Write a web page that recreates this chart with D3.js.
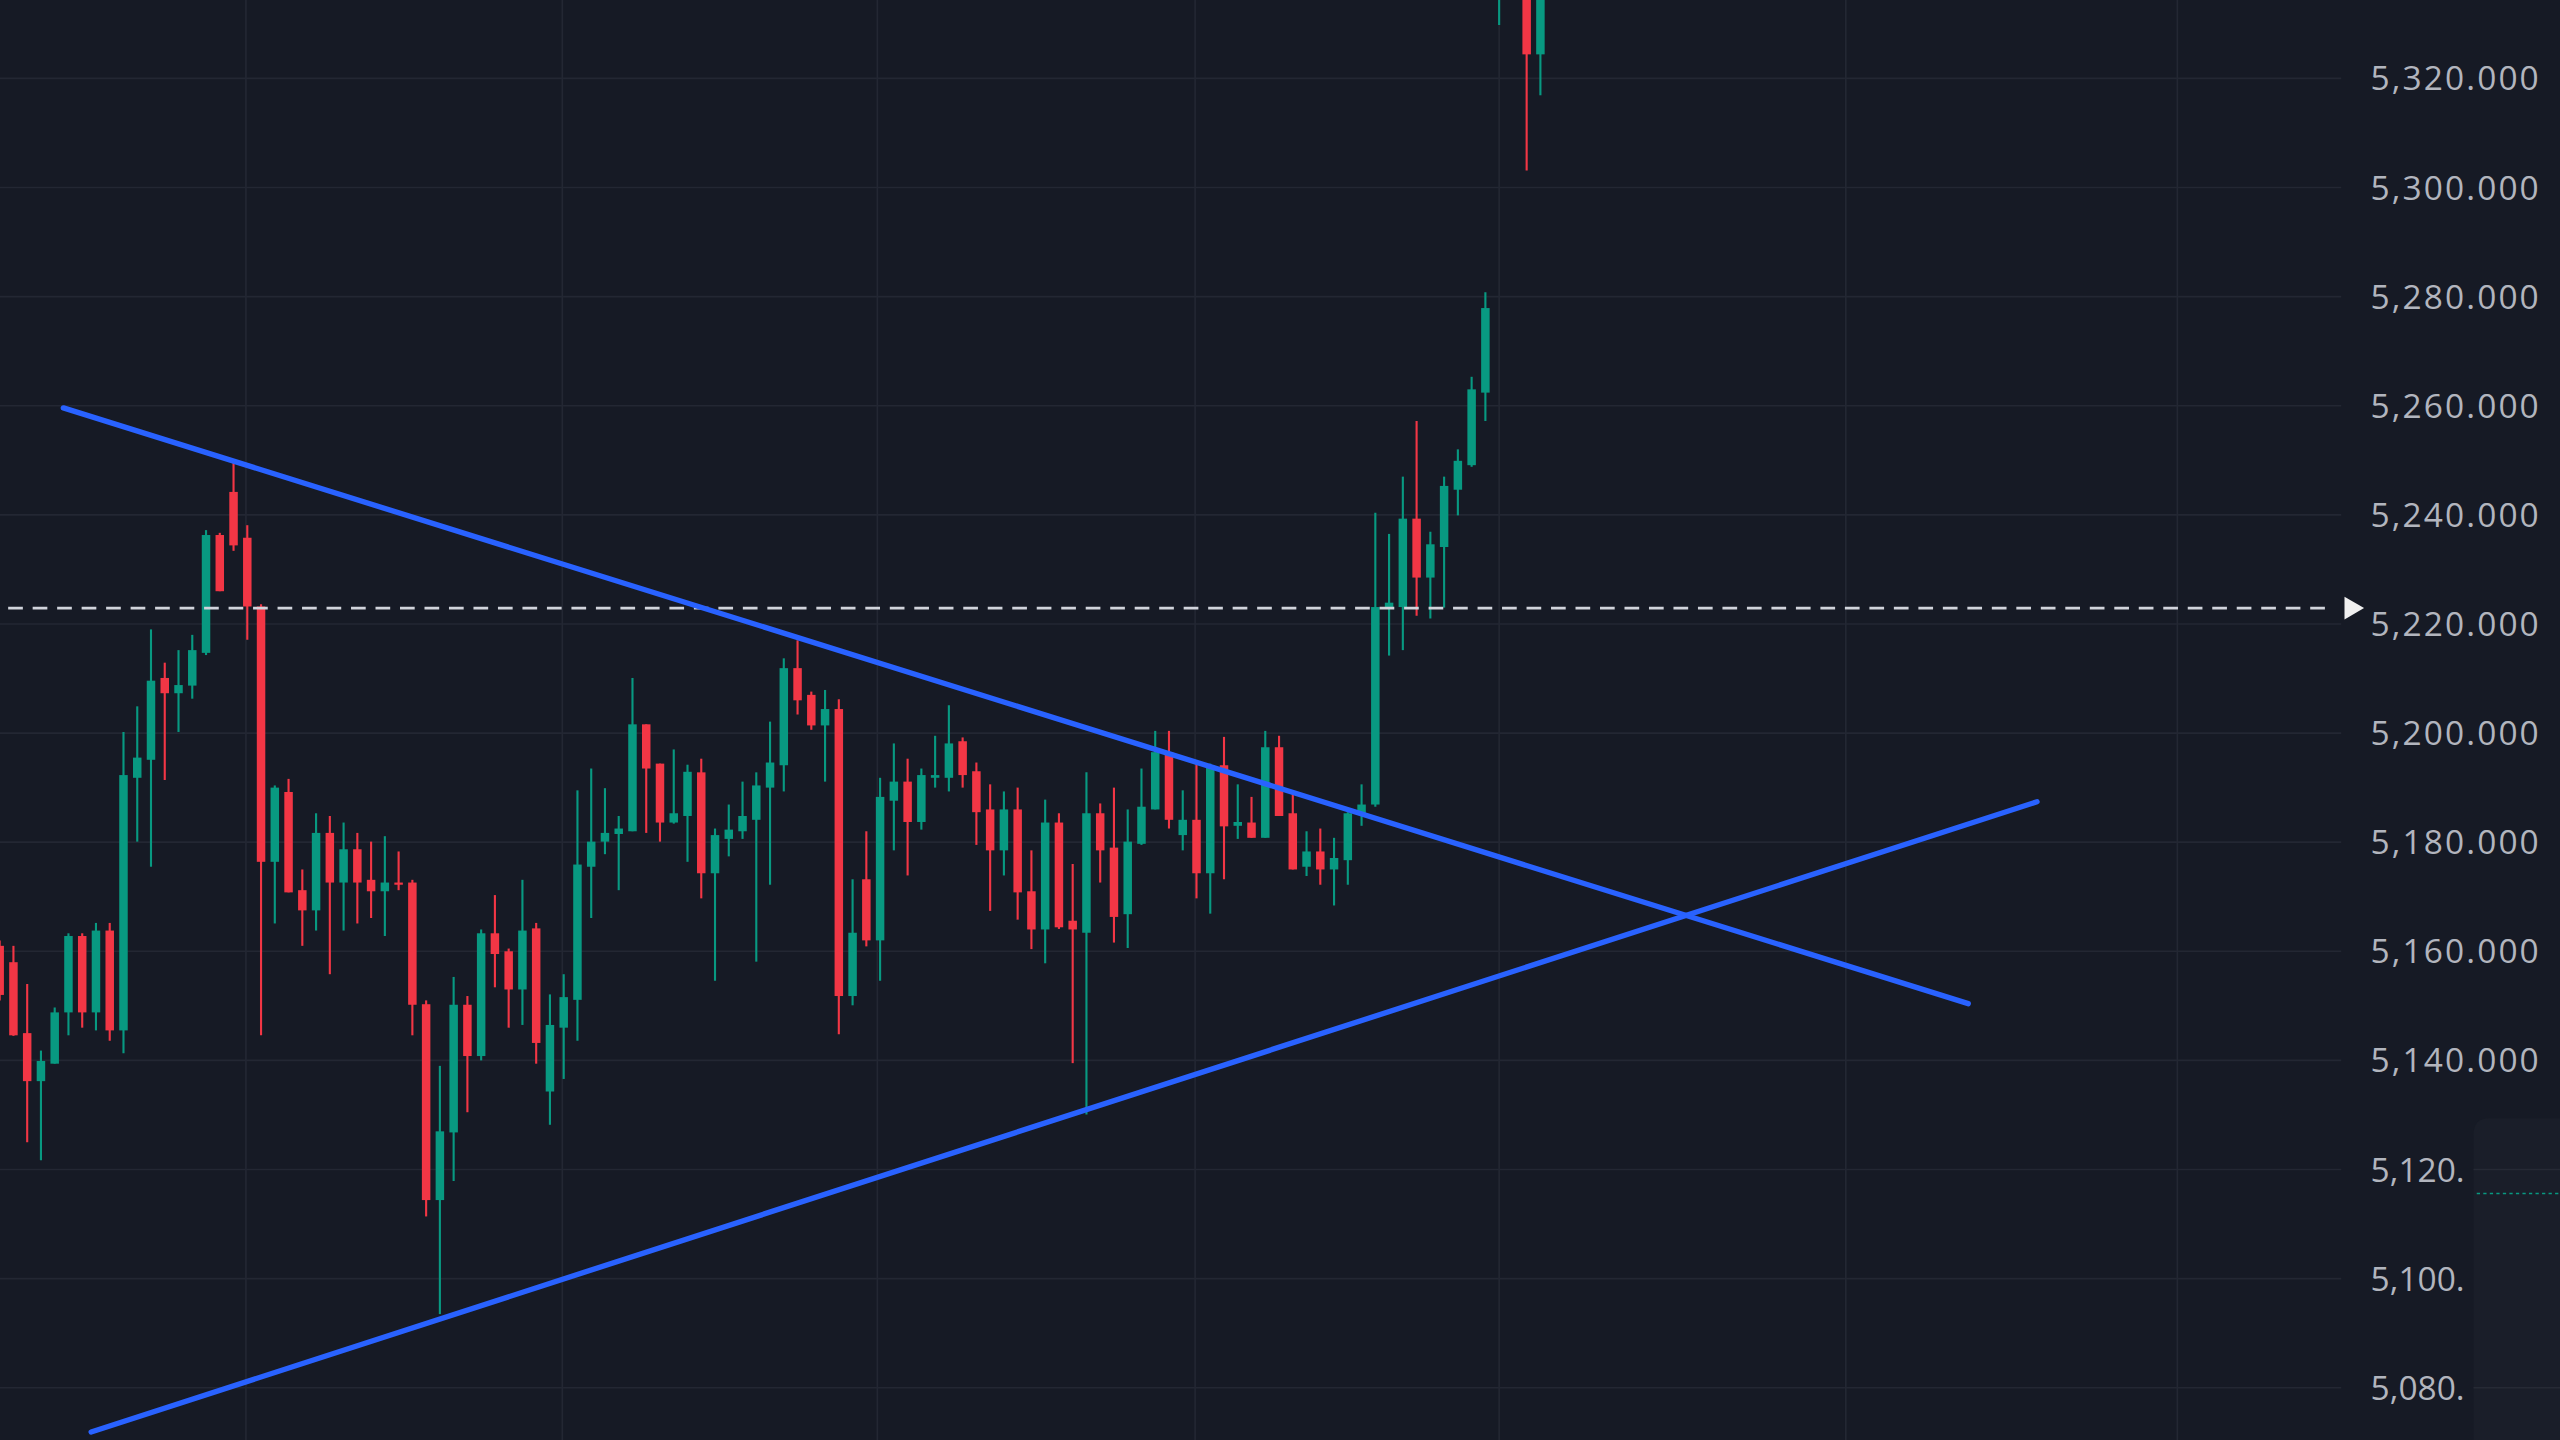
<!DOCTYPE html>
<html>
<head>
<meta charset="utf-8">
<script src="https://cdn.jsdelivr.net/npm/d3@7"></script>
<style>
  html, body { margin: 0; padding: 0; background: #161a25; overflow: hidden; }
</style>
</head>
<body>
<div id="draw"></div>
<script>
// candles: open, high, low, close
let opens  = [5161,5158,5145,5136.2,5139.4,5148.8,5162.8,5148.8,5163.8,5145.5,5191.8,5195.1,5210.1,5207.3,5208.7,5214.7,5236.3,5244.2,5235.8,5223.2,
              5176.4,5189.2,5171.2,5167.5,5181.7,5172.6,5178.7,5173.1,5171,5172.6,5172.6,5150.3,5114.4,5126.8,5150.2,5140.8,5163.3,5160,5153,5164.2,
              5134.3,5146,5151.1,5175.5,5180.1,5181.5,5182,5201.6,5194.4,5183.6,5184.8,5192.8,5174.3,5180.6,5182,5184.1,5190,5194.1,5211.9,5207,
              5201.4,5204.4,5151.8,5173.2,5162,5187.6,5191.1,5183.7,5191.8,5191.8,5198.5,5193,5186,5178.5,5186,5171,5164,5183.6,5165.6,5163.4,
              5185.3,5179,5166.8,5179.7,5186,5196.5,5181.3,5184.1,5174.3,5194.1,5183,5183.6,5180.8,5197.4,5185.3,5175.5,5178.3,5175,5176.7,5185,
              5186.9,5222.8,5223.1,5239.3,5228.5,5234.1,5244.6,5249.1,5262.4,5345,5360,5345,5324.4];
let highs  = [5162,5161,5154,5141.8,5149.7,5163.3,5163.3,5165.2,5165.2,5200.2,5204.9,5219,5212.9,5215.2,5218,5237.2,5236.7,5249.8,5238.1,5223.6,
              5190.4,5191.6,5175,5185.3,5184.8,5183.6,5181.7,5180.1,5181.1,5178.3,5173.1,5151,5139,5155.3,5151.8,5164,5170.3,5160.5,5173.1,5165.2,
              5152.1,5155.8,5189.5,5193.5,5189.9,5184.8,5210.1,5201.6,5194.4,5197,5194.2,5195.3,5182.5,5186.9,5191.1,5192.8,5202.1,5213.7,5217,5207.6,
              5207.9,5206.2,5173.2,5182,5191.8,5198.1,5195.3,5193.5,5199.5,5205.1,5199.2,5194.6,5190.6,5189.3,5190,5178.5,5187.8,5185.3,5176,5192.8,
              5187.1,5190,5186,5193.5,5200.4,5200.4,5189.5,5194.6,5194.4,5199.3,5190.6,5188.3,5200.4,5199.5,5189.3,5182,5182.5,5180.8,5185.5,5190.6,
              5240.4,5236.5,5247,5257.2,5236.9,5247,5252,5265.3,5280.8,5380,5385,5355,5350];
let lows   = [5151,5144.5,5125,5121.7,5139.4,5144.6,5146,5145.5,5143.6,5141.3,5180.1,5175.5,5191.4,5200.2,5206.3,5214.3,5226,5233.4,5217.1,5144.6,
              5165.1,5170.8,5161,5163.8,5155.8,5163.8,5165.1,5166.1,5162.8,5171.2,5144.6,5111.4,5093.5,5117.9,5130.5,5140,5153.4,5146,5146.5,5139.4,
              5128.2,5136.6,5143.6,5166.1,5177.8,5171.2,5182,5181.7,5180.1,5183.4,5176.4,5169.7,5154.6,5177.4,5180.6,5158.1,5172.2,5189.3,5203.4,5200.6,
              5191.1,5144.8,5150.1,5160.9,5154.6,5178.5,5173.9,5182.3,5190,5189.3,5190,5179.5,5167.4,5173.9,5165.8,5160.4,5157.8,5164.1,5139.5,5130.1,
              5172.6,5161.6,5160.6,5179.5,5186,5182.5,5178.5,5169.7,5166.9,5173.2,5180.6,5180.8,5180.8,5184.8,5175,5173.8,5172.2,5168.4,5172.2,5183,
              5186.5,5214.2,5215.2,5221.5,5221,5223,5239.9,5248.8,5257.2,5329.8,5340,5303.1,5316.9];
let closes = [5152,5144.6,5136.2,5139.9,5148.8,5162.8,5148.8,5163.8,5145.5,5192.3,5195.5,5209.6,5207.3,5208.8,5215.2,5236.3,5226,5234.4,5223.2,5176.4,
              5190,5170.8,5167.5,5181.7,5172.6,5178.7,5172.6,5171,5172.6,5172.2,5150.2,5114.4,5127,5150.2,5140.8,5163.3,5159.5,5153,5163.8,5143.2,
              5146.5,5151.6,5175.9,5180.1,5181.7,5182.5,5201.6,5193.5,5183.6,5185.3,5192.9,5174.3,5181.3,5182.3,5184.8,5190.4,5194.6,5211.9,5206,5201.4,
              5204.4,5151.8,5163.4,5162,5188.3,5191.1,5183.7,5192.3,5192.3,5198.1,5192.3,5185.5,5178.5,5186,5170.8,5164,5183.6,5164.4,5164,5185.3,
              5178.5,5166.3,5180.1,5186.5,5196.5,5184.1,5184.1,5174.3,5194.1,5182.9,5183.7,5180.8,5197.4,5184.8,5175,5178.3,5175,5177.1,5185.3,5186.9,
              5223.1,5223.9,5239.3,5228.5,5234.6,5245.3,5249.9,5263,5277.9,5370,5375,5324.4,5340];

let priceTicks = [5080, 5100, 5120, 5140, 5160, 5180, 5200, 5220, 5240, 5260, 5280, 5300, 5320];
let tickLabels = ['5,080.', '5,100.', '5,120.', '5,140.000', '5,160.000', '5,180.000', '5,200.000',
                  '5,220.000', '5,240.000', '5,260.000', '5,280.000', '5,300.000', '5,320.000'];
let timeGrid = [17.9, 40.9, 63.8, 86.9, 109, 134.2, 158.3];   // vertical grid lines, in bar index
let lastPrice = 5222.9;
// trendlines: [bar index, price]
let upperLine = [[4.63, 5259.6], [143.1, 5150.4]];
let lowerLine = [[6.65, 5071.9], [148.1, 5187.4]];

let candles = opens.map((o, i) => ({ i: i, o: o, h: highs[i], l: lows[i], c: closes[i] }));

const W = 1568, H = 882, plotRight = 1434;
const up = '#089981', down = '#f23645';

let svg = d3.select('#draw')
    .append('svg')
    .attr('width', 2560)
    .attr('height', 1440)
    .attr('viewBox', `0 0 ${W} ${H}`)
    .style('display', 'block');

svg.append('rect').attr('width', W).attr('height', H).attr('fill', '#161a25');

let x = d3.scaleLinear().domain([0, 112]).range([-0.2, 943.5]);
let y = d3.scaleLinear().domain([5080, 5320]).range([850, 48]);

// grid
svg.append('g').selectAll('line')
    .data(priceTicks)
    .enter()
        .append('line')
        .attr('x1', 0).attr('x2', plotRight)
        .attr('y1', d => y(d)).attr('y2', d => y(d))
        .attr('stroke', '#232733').attr('stroke-width', 1);

svg.append('g').selectAll('line')
    .data(timeGrid)
    .enter()
        .append('line')
        .attr('x1', d => x(d)).attr('x2', d => x(d))
        .attr('y1', 0).attr('y2', H)
        .attr('stroke', '#232733').attr('stroke-width', 1);

// candles
let cg = svg.append('g');
cg.selectAll('line')
    .data(candles)
    .enter()
        .append('line')
        .attr('x1', d => x(d.i)).attr('x2', d => x(d.i))
        .attr('y1', d => y(d.h)).attr('y2', d => y(d.l))
        .attr('stroke', d => d.c >= d.o ? up : down)
        .attr('stroke-width', 1.3);

cg.selectAll('rect')
    .data(candles)
    .enter()
        .append('rect')
        .attr('x', d => x(d.i) - 2.6)
        .attr('width', 5.2)
        .attr('y', d => y(Math.max(d.o, d.c)))
        .attr('height', d => Math.max(1.2, Math.abs(y(d.o) - y(d.c))))
        .attr('fill', d => d.c >= d.o ? up : down);

// last price dashed line
svg.append('line')
    .attr('x1', 5).attr('x2', 1430)
    .attr('y1', y(lastPrice)).attr('y2', y(lastPrice))
    .attr('stroke', '#d1d4dc')
    .attr('stroke-width', 1.6)
    .attr('stroke-dasharray', '9,6');

svg.append('path')
    .attr('d', `M1436,${y(lastPrice) - 7}L1448,${y(lastPrice)}L1436,${y(lastPrice) + 7}Z`)
    .attr('fill', '#f0f0f0');

// trendlines
let line = d3.line().x(d => x(d[0])).y(d => y(d[1]));
[upperLine, lowerLine].forEach(t => {
    svg.append('path')
        .attr('d', line(t))
        .attr('fill', 'none')
        .attr('stroke', '#2962ff')
        .attr('stroke-width', 3.3)
        .attr('stroke-linecap', 'round');
});

// price labels
svg.append('g').selectAll('text')
    .data(priceTicks)
    .enter()
        .append('text')
        .attr('x', 1452)
        .attr('y', d => y(d))
        .attr('dy', '0.36em')
        .attr('fill', '#b2b5be')
        .attr('font-family', '"Open Sans", sans-serif')
        .attr('font-size', 20.5)
        .attr('textLength', (d, i) => tickLabels[i].length > 6 ? 103 : null)
        .text((d, i) => tickLabels[i]);

// small panel at bottom right
let pg = svg.append('g');
pg.append('path')
    .attr('d', `M1515,${H}V695Q1515,685 1525,685H${W}V${H}Z`)
    .attr('fill', '#1a1e29');
pg.selectAll('line.pg')
    .data([5120, 5080])
    .enter()
        .append('line')
        .attr('x1', 1515).attr('x2', W)
        .attr('y1', d => y(d)).attr('y2', d => y(d))
        .attr('stroke', '#262a35');
pg.append('line')
    .attr('x1', 1517).attr('x2', W)
    .attr('y1', 731).attr('y2', 731)
    .attr('stroke', up)
    .attr('stroke-width', 1)
    .attr('stroke-dasharray', '2,2');
</script>
</body>
</html>
